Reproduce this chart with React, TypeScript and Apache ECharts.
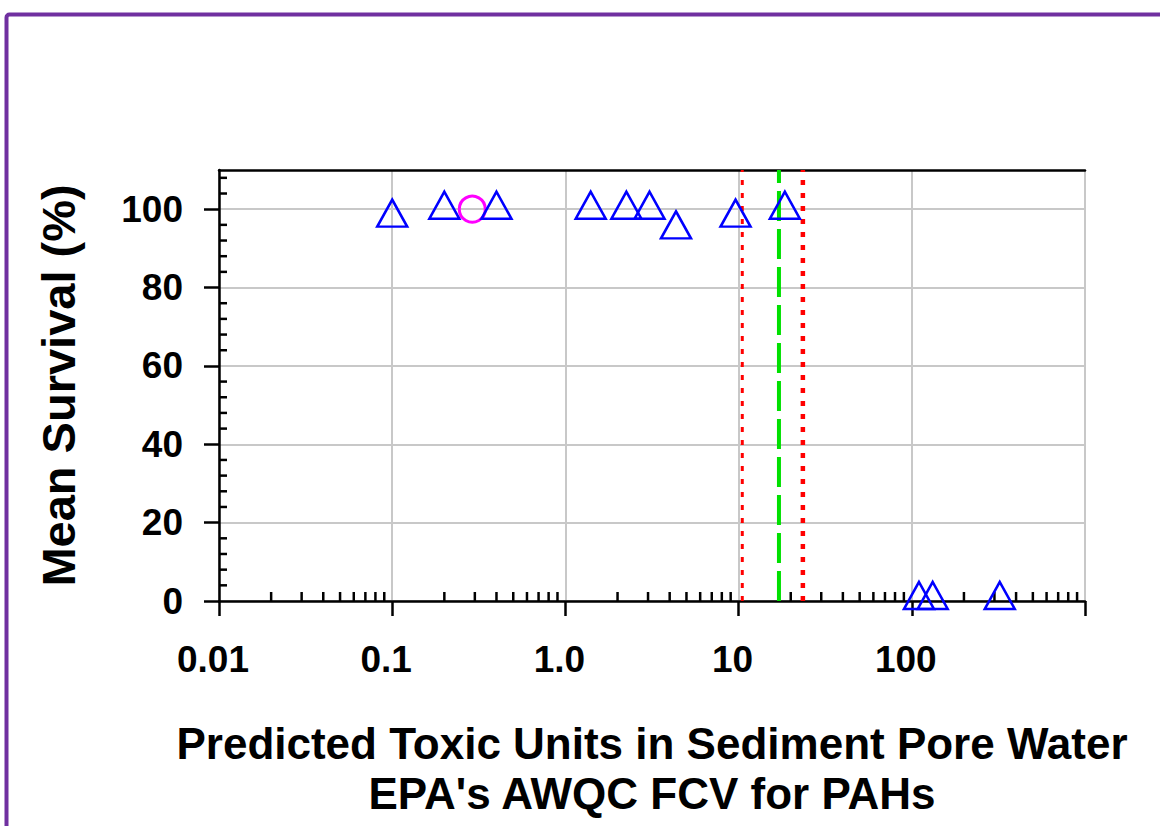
import React, { useEffect, useRef } from "react";
import * as echarts from "echarts";

// ---- data ----
const triangleX = [0.1, 0.2, 0.4, 1.4, 2.25, 3.06, 4.35, 9.6, 18.5, 110, 132, 322];
const triangleY = [99, 101, 101, 101, 101, 101, 96, 99, 101, 1.4, 1.4, 1.4];
const circleX = [0.29];
const circleY = [100];
const redLinesX = [10.5, 23.5];
const greenLineX = [17.1];
const xTickLabels = ["0.01", "0.1", "1.0", "10", "100", ""];
const yTickValues = [0, 20, 40, 60, 80, 100];
const xDecades = [0.01, 0.1, 1, 10, 100];
const minorMultipliers = [2, 3, 4, 5, 6, 7, 8, 9];

const X_MIN = 0.01;
const X_MAX = 1000;
const Y_MIN = 0;
const Y_MAX = 110;

const FONT = "'Liberation Sans', Arial, sans-serif";

const xMinor: number[][] = [];
xDecades.forEach((d) => minorMultipliers.forEach((m) => xMinor.push([+(d * m).toPrecision(3), 0])));
const yMinor: number[][] = [];
for (let v = 4; v < Y_MAX; v += 4) {
  if (v % 20 !== 0) yMinor.push([X_MIN, v]);
}

export default function App() {
  const ref = useRef<HTMLDivElement>(null);
  useEffect(() => {
    if (!ref.current) return;
    const chart = echarts.init(ref.current, undefined, { renderer: "svg" });
    const vLine = (x: number, color: string, width: number, dash: number[]) => ({
      type: "line",
      data: [
        [x, Y_MIN],
        [x, Y_MAX],
      ],
      showSymbol: false,
      silent: true,
      z: 3,
      lineStyle: { color, width, type: dash, cap: "butt" },
    });
    const option: any = {
      animation: false,
      backgroundColor: "#ffffff",
      graphic: [
        {
          type: "rect",
          shape: { x: 6.5, y: 14.5, width: 1400, height: 1100, r: 3 },
          style: { fill: "none", stroke: "#7030a0", lineWidth: 4 },
          silent: true,
          z: 100,
        },
      ],
      grid: { left: 219, right: 75, top: 170, bottom: 225, containLabel: false },
      xAxis: [
        {
          type: "log",
          logBase: 10,
          min: X_MIN,
          max: X_MAX,
          position: "bottom",
          name: "Predicted Toxic Units in Sediment Pore Water\nEPA's AWQC FCV for PAHs",
          nameLocation: "middle",
          nameGap: 117,
          nameTextStyle: {
            fontFamily: FONT,
            fontWeight: "bold",
            fontSize: 44,
            lineHeight: 50,
            color: "#000",
          },
          axisLine: { show: true, onZero: false, lineStyle: { color: "#000", width: 2.5 } },
          axisTick: { show: true, inside: false, length: 15, lineStyle: { color: "#000", width: 2.5 } },
          minorTick: { show: false },
          axisLabel: {
            margin: 40,
            fontFamily: FONT,
            fontWeight: "bold",
            fontSize: 37,
            color: "#000",
            padding: [0, 12, 0, 0],
            formatter: (v: number) => xTickLabels[Math.round(Math.log10(v)) + 2] ?? "",
          },
          splitLine: { show: true, lineStyle: { color: "#c8c8c8", width: 2 } },
        },
        {
          type: "log",
          logBase: 10,
          min: X_MIN,
          max: X_MAX,
          position: "top",
          axisLine: { show: true, onZero: false, lineStyle: { color: "#000", width: 2.5 } },
          axisTick: { show: false },
          axisLabel: { show: false },
          splitLine: { show: false },
        },
      ],
      yAxis: {
        type: "value",
        min: Y_MIN,
        max: Y_MAX,
        interval: 20,
        name: "Mean Survival (%)",
        nameLocation: "middle",
        nameRotate: 90,
        nameGap: 137,
        nameTextStyle: { fontFamily: FONT, fontWeight: "bold", fontSize: 47, color: "#000" },
        axisLine: { show: true, onZero: false, lineStyle: { color: "#000", width: 2.5 } },
        axisTick: {
          show: true,
          inside: false,
          length: 15,
          customValues: yTickValues,
          lineStyle: { color: "#000", width: 2.5 },
        },
        axisLabel: {
          margin: 36,
          fontFamily: FONT,
          fontWeight: "bold",
          fontSize: 37,
          color: "#000",
          customValues: yTickValues,
          formatter: (v: number) => (yTickValues.indexOf(v) >= 0 ? String(v) : ""),
        },
        splitLine: { show: true, lineStyle: { color: "#c8c8c8", width: 2 } },
      },
      series: [
        {
          type: "custom",
          coordinateSystem: "cartesian2d",
          data: xMinor,
          silent: true,
          z: 4,
          clip: false,
          renderItem: (_p: any, api: any) => {
            const pt = api.coord([api.value(0), Y_MIN]);
            return {
              type: "line",
              shape: { x1: pt[0], y1: pt[1], x2: pt[0], y2: pt[1] - 9 },
              style: { stroke: "#000", lineWidth: 2.5 },
            };
          },
        },
        {
          type: "custom",
          coordinateSystem: "cartesian2d",
          data: yMinor,
          silent: true,
          z: 4,
          clip: false,
          renderItem: (_p: any, api: any) => {
            const pt = api.coord([X_MIN, api.value(1)]);
            return {
              type: "line",
              shape: { x1: pt[0], y1: pt[1], x2: pt[0] + 8, y2: pt[1] },
              style: { stroke: "#000", lineWidth: 2.5 },
            };
          },
        },
        vLine(redLinesX[0], "#ff0000", 3, [5, 8]),
        vLine(greenLineX[0], "#00e000", 4, [30, 8]),
        vLine(redLinesX[1], "#ff0000", 4.5, [5, 8]),
        {
          type: "scatter",
          data: circleX.map((x, i) => [x, circleY[i]]),
          symbol: "circle",
          symbolSize: 26,
          z: 5,
          itemStyle: { color: "rgba(0,0,0,0)", borderColor: "#ff00ff", borderWidth: 3, opacity: 1 },
        },
        {
          type: "scatter",
          data: triangleX.map((x, i) => [x, triangleY[i]]),
          symbol: "triangle",
          symbolSize: [30, 27],
          z: 6,
          itemStyle: { color: "rgba(0,0,0,0)", borderColor: "#0000ff", borderWidth: 2.5, opacity: 1 },
        },
      ],
    };
    chart.setOption(option);
    return () => chart.dispose();
  }, []);
  return (
    <div
      ref={ref}
      style={{ position: "absolute", left: 0, top: 0, width: 1160, height: 826, background: "#fff" }}
    />
  );
}
